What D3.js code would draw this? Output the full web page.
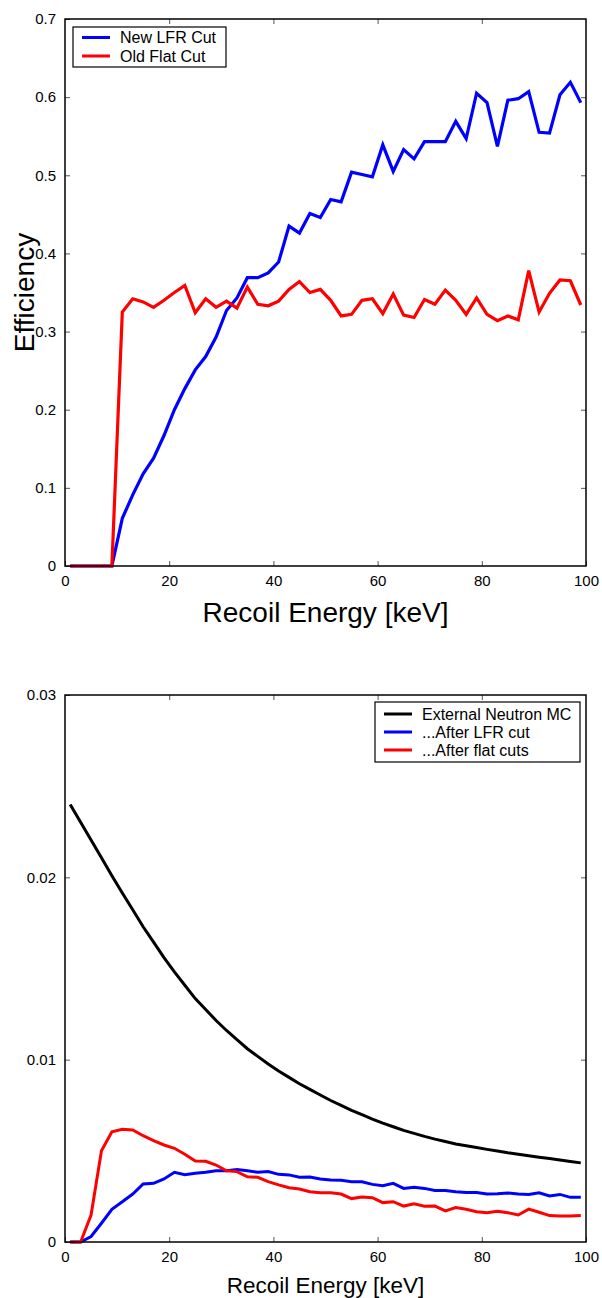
<!DOCTYPE html>
<html>
<head>
<meta charset="utf-8">
<script src="https://cdn.jsdelivr.net/npm/d3@7"></script>
<style>
  html, body { margin: 0; padding: 0; background: #fff; }
  svg { display: block; font-family: "Liberation Sans", Arial, Helvetica, sans-serif; }
</style>
</head>
<body>
<svg id="chart" width="602" height="1298"></svg>
<script>
// Recoil energy bin centres [keV]
const energies = [1, 3, 5, 7, 9, 11, 13, 15, 17, 19, 21, 23, 25, 27, 29, 31, 33, 35, 37, 39,
  41, 43, 45, 47, 49, 51, 53, 55, 57, 59, 61, 63, 65, 67, 69, 71, 73, 75, 77, 79,
  81, 83, 85, 87, 89, 91, 93, 95, 97, 99];

// Cut efficiency per bin
const effLFR = [0, 0, 0, 0, 0, 0.061, 0.091, 0.118, 0.138, 0.167, 0.200, 0.227, 0.251, 0.268, 0.293,
  0.327, 0.343, 0.369, 0.369, 0.375, 0.389, 0.435, 0.426, 0.451, 0.446, 0.469, 0.466, 0.504,
  0.501, 0.498, 0.539, 0.505, 0.533, 0.521, 0.543, 0.543, 0.543, 0.569, 0.547, 0.605, 0.593,
  0.537, 0.596, 0.598, 0.607, 0.555, 0.554, 0.603, 0.619, 0.593];
const effFlat = [0, 0, 0, 0, 0, 0.325, 0.342, 0.338, 0.331, 0.340, 0.350, 0.359, 0.324, 0.342, 0.331,
  0.339, 0.330, 0.357, 0.335, 0.333, 0.339, 0.354, 0.364, 0.350, 0.354, 0.340, 0.320, 0.322,
  0.340, 0.342, 0.323, 0.348, 0.321, 0.318, 0.341, 0.335, 0.353, 0.340, 0.322, 0.343, 0.322,
  0.314, 0.320, 0.315, 0.378, 0.325, 0.349, 0.366, 0.365, 0.334];

// Neutron spectrum before and after cuts
const neutronMC = [0.02400, 0.02302, 0.02205, 0.02107, 0.02009, 0.01914, 0.01822, 0.01729, 0.01645,
  0.01560, 0.01481, 0.01408, 0.01335, 0.01275, 0.01215, 0.01160, 0.01110, 0.01060, 0.01018,
  0.00976, 0.00938, 0.00903, 0.00868, 0.00837, 0.00806, 0.00776, 0.00749, 0.00722, 0.00698,
  0.00674, 0.00652, 0.00632, 0.00612, 0.00596, 0.00579, 0.00564, 0.00551, 0.00538, 0.00528,
  0.00518, 0.00508, 0.00499, 0.00489, 0.00481, 0.00473, 0.00465, 0.00458, 0.00450, 0.00442,
  0.00434];
const afterLFR = [0, 0, 0.0003, 0.00103, 0.00179, 0.00221, 0.00263, 0.00318, 0.00322, 0.00346,
  0.00382, 0.00369, 0.00377, 0.00382, 0.00391, 0.00391, 0.00397, 0.00391, 0.00382, 0.00386,
  0.00371, 0.00368, 0.00355, 0.00357, 0.00346, 0.0034, 0.00338, 0.00331, 0.0033, 0.00316,
  0.00309, 0.00322, 0.00294, 0.003, 0.00294, 0.00283, 0.00283, 0.00276, 0.00272, 0.00272,
  0.00263, 0.00265, 0.00269, 0.00263, 0.0026, 0.0027, 0.00252, 0.00261, 0.00245, 0.00245];
const afterFlat = [0, 0, 0.00148, 0.005, 0.00605, 0.00618, 0.00614, 0.00583, 0.00556, 0.00532,
  0.00514, 0.00481, 0.00444, 0.00443, 0.00422, 0.00391, 0.00386, 0.00358, 0.00355, 0.00331,
  0.00313, 0.00298, 0.00291, 0.00276, 0.0027, 0.0027, 0.00263, 0.00238, 0.00247, 0.00243,
  0.00216, 0.00221, 0.00197, 0.0021, 0.00196, 0.00197, 0.00171, 0.00189, 0.0018, 0.00166,
  0.00161, 0.00168, 0.00161, 0.00148, 0.0018, 0.00163, 0.00145, 0.00143, 0.00143, 0.00145];

const xTicks = [0, 20, 40, 60, 80, 100];
const effTicks = [0, 0.1, 0.2, 0.3, 0.4, 0.5, 0.6, 0.7];
const rateTicks = [0, 0.01, 0.02, 0.03];

const svg = d3.select("#chart");

function drawPanel(cfg) {
  const g = svg.append("g");
  const x = d3.scaleLinear().domain([0, 100]).range([cfg.left, cfg.right]);
  const y = d3.scaleLinear().domain(cfg.yDomain).range([cfg.bottom, cfg.top]);

  const tickLen = 5;
  const tickFmt = d => d === 0 ? "0" : d3.format(cfg.yFormat)(d);

  // inward ticks on all four sides
  const axes = [
    { ax: d3.axisBottom(x).tickValues(xTicks).tickSizeInner(-tickLen).tickSizeOuter(0).tickPadding(9).tickFormat(d3.format("d")), tr: `translate(0,${cfg.bottom})` },
    { ax: d3.axisTop(x).tickValues(xTicks.slice(1, -1)).tickSizeInner(-tickLen).tickSizeOuter(0).tickFormat(""), tr: `translate(0,${cfg.top})` },
    { ax: d3.axisLeft(y).tickValues(cfg.yTicks).tickSizeInner(-tickLen).tickSizeOuter(0).tickPadding(9).tickFormat(tickFmt), tr: `translate(${cfg.left},0)` },
    { ax: d3.axisRight(y).tickValues(cfg.yTicks.slice(1, -1)).tickSizeInner(-tickLen).tickSizeOuter(0).tickFormat(""), tr: `translate(${cfg.right},0)` }
  ];
  axes.forEach(a => {
    const ag = g.append("g").attr("transform", a.tr).call(a.ax);
    ag.select(".domain").remove();
    ag.selectAll(".tick line").attr("stroke", "#555").attr("stroke-width", 1);
    ag.selectAll(".tick text").attr("fill", "#000").attr("font-size", 15)
      .attr("font-family", "'Liberation Sans', Arial, sans-serif");
  });

  // data lines
  const line = d3.line().x((d, i) => x(energies[i])).y(d => y(d));
  cfg.series.forEach(s => {
    g.append("path").datum(s.values)
      .attr("d", line)
      .attr("fill", "none")
      .attr("stroke", s.color)
      .attr("stroke-width", cfg.lineWidth)
      .attr("stroke-linejoin", "miter")
      .attr("stroke-miterlimit", 4);
  });

  // frame
  g.append("rect")
    .attr("x", cfg.left).attr("y", cfg.top)
    .attr("width", cfg.right - cfg.left).attr("height", cfg.bottom - cfg.top)
    .attr("fill", "none").attr("stroke", "#000").attr("stroke-width", 1.5);

  // x label
  g.append("text")
    .attr("x", (cfg.left + cfg.right) / 2).attr("y", cfg.xLabelY)
    .attr("text-anchor", "middle").attr("font-size", cfg.xLabelSize)
    .text("Recoil Energy [keV]");

  if (cfg.yLabel) {
    g.append("text")
      .attr("transform", `translate(${cfg.yLabelX},${(cfg.top + cfg.bottom) / 2}) rotate(-90)`)
      .attr("text-anchor", "middle").attr("font-size", cfg.yLabelSize)
      .text(cfg.yLabel);
  }

  // legend
  const L = cfg.legend;
  const lg = g.append("g");
  lg.append("rect").attr("x", L.x).attr("y", L.y).attr("width", L.w).attr("height", L.h)
    .attr("fill", "#fff").attr("stroke", "#000").attr("stroke-width", 1.2);
  cfg.series.forEach((s, i) => {
    const yy = L.y + L.first + i * L.step;
    lg.append("line").attr("x1", L.x + 9).attr("x2", L.x + 37).attr("y1", yy).attr("y2", yy)
      .attr("stroke", s.color).attr("stroke-width", 3);
    lg.append("text").attr("x", L.x + 47).attr("y", yy).attr("dy", "0.36em")
      .attr("font-size", L.fontSize).text(s.name);
  });
}

drawPanel({
  left: 65, right: 586, top: 19, bottom: 566,
  yDomain: [0, 0.7], yTicks: effTicks, yFormat: ".1f",
  lineWidth: 3.2,
  xLabelY: 622, xLabelSize: 28,
  yLabel: "Efficiency", yLabelX: 34, yLabelSize: 28,
  legend: { x: 73, y: 27, w: 153, h: 40, first: 10.5, step: 18.5, fontSize: 16 },
  series: [
    { name: "New LFR Cut", color: "#0000ff", values: effLFR },
    { name: "Old Flat Cut", color: "#ff0000", values: effFlat }
  ]
});

drawPanel({
  left: 65, right: 586, top: 695, bottom: 1242,
  yDomain: [0, 0.03], yTicks: rateTicks, yFormat: ".2f",
  lineWidth: 3,
  xLabelY: 1293, xLabelSize: 22.5,
  yLabel: null,
  legend: { x: 375, y: 702, w: 205, h: 60, first: 12, step: 18, fontSize: 16 },
  series: [
    { name: "External Neutron MC", color: "#000000", values: neutronMC },
    { name: "...After LFR cut", color: "#0000ff", values: afterLFR },
    { name: "...After flat cuts", color: "#ff0000", values: afterFlat }
  ]
});
</script>
</body>
</html>
